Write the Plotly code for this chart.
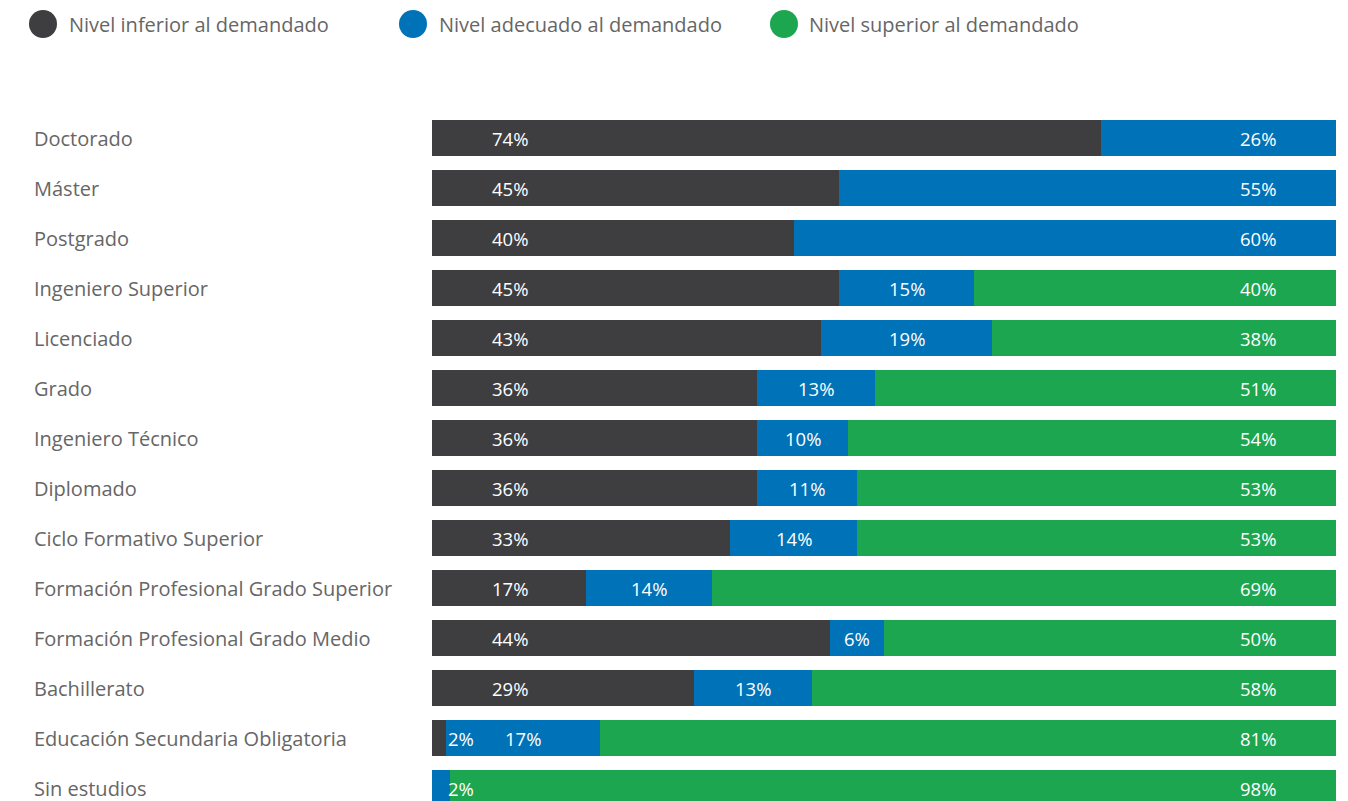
import plotly.graph_objects as go

# ---------------- data ----------------
categories = [
    "Doctorado", "Máster", "Postgrado", "Ingeniero Superior", "Licenciado",
    "Grado", "Ingeniero Técnico", "Diplomado", "Ciclo Formativo Superior",
    "Formación Profesional Grado Superior", "Formación Profesional Grado Medio",
    "Bachillerato", "Educación Secundaria Obligatoria", "Sin estudios",
]
inferior = [74, 45, 40, 45, 43, 36, 36, 36, 33, 17, 44, 29, 1.6, 0]
adecuado = [26, 55, 60, 15, 19, 13, 10, 11, 14, 14, 6, 13, 17, 2]
superior = [0, 0, 0, 40, 38, 51, 54, 53, 53, 69, 50, 58, 81.4, 98]

series_names = [
    "Nivel inferior al demandado",
    "Nivel adecuado al demandado",
    "Nivel superior al demandado",
]
series_values = [inferior, adecuado, superior]
colors = ["#3e3e41", "#0073b8", "#1da650"]

# ---------------- layout constants ----------------
W, H = 1348, 801
ML, MR, MT, MB = 432, 12, 80, 0
FONT = "'Open Sans', 'Noto Sans', sans-serif"
TEXT_GRAY = "#666666"
ROW_PX = 50          # pixel pitch between rows
FIRST_ROW_Y = 138    # pixel centre of the first row

plot_w = W - ML - MR
plot_h = H - MT - MB


def px_to_paper_x(px):
    return (px - ML) / plot_w


def px_to_paper_y(py):
    return (H - MB - py) / plot_h


n = len(categories)
idx = list(range(n))
y_top = (MT - FIRST_ROW_Y) / ROW_PX
y_bot = (H - MB - FIRST_ROW_Y) / ROW_PX

fig = go.Figure()
for name, vals, col in zip(series_names, series_values, colors):
    fig.add_trace(go.Bar(
        y=idx, x=vals, orientation="h", name=name,
        marker=dict(color=col, line=dict(width=0)),
        width=0.72, showlegend=False, hoverinfo="skip",
    ))

annotations = []
# data labels
px_per_unit = plot_w / 100.0
edge_off = 78 / px_per_unit
tiny_off = 14 / px_per_unit
for i in idx:
    vals = [s[i] for s in series_values]
    nz = [k for k, v in enumerate(vals) if v > 0]
    start = 0.0
    for k, v in enumerate(vals):
        if v <= 0:
            continue
        if v < 3:
            x, anchor = start + tiny_off, "left"
        elif k == nz[0]:
            x, anchor = start + edge_off, "center"
        elif k == nz[-1]:
            x, anchor = start + v - edge_off, "center"
        else:
            x, anchor = start + v / 2, "center"
        annotations.append(dict(
            x=x, y=i, xref="x", yref="y", text=f"{round(v)}%",
            showarrow=False, xanchor=anchor, yanchor="middle",
            font=dict(family=FONT, size=18.5, color="white"),
        ))
        start += v

# category labels (left aligned)
for i, c in enumerate(categories):
    annotations.append(dict(
        x=px_to_paper_x(32), y=i, xref="paper", yref="y", text=c,
        showarrow=False, xanchor="left", yanchor="middle",
        font=dict(family=FONT, size=20, color=TEXT_GRAY),
    ))

# custom legend
shapes = []
legend_circle_x = [43, 413, 784]
legend_text_x = [67, 437, 807]
legend_y = 24
for name, col, cx, tx in zip(series_names, colors, legend_circle_x, legend_text_x):
    shapes.append(dict(
        type="circle", xref="paper", yref="paper",
        x0=px_to_paper_x(cx - 14), x1=px_to_paper_x(cx + 14),
        y0=px_to_paper_y(legend_y + 14), y1=px_to_paper_y(legend_y - 14),
        fillcolor=col, line=dict(width=0),
    ))
    annotations.append(dict(
        x=px_to_paper_x(tx), y=px_to_paper_y(legend_y), xref="paper", yref="paper",
        text=name, showarrow=False, xanchor="left", yanchor="middle",
        font=dict(family=FONT, size=20, color=TEXT_GRAY),
    ))

fig.update_layout(
    width=W, height=H,
    margin=dict(l=ML, r=MR, t=MT, b=MB, pad=0),
    barmode="stack",
    plot_bgcolor="white", paper_bgcolor="white",
    xaxis=dict(range=[0, 100], visible=False, fixedrange=True),
    yaxis=dict(range=[y_bot, y_top], visible=False, fixedrange=True),
    annotations=annotations, shapes=shapes,
    showlegend=False,
)

fig.write_html(
    "out.html",
    config={"displayModeBar": False},
    post_script="document.body.style.margin='0';document.body.style.overflow='hidden';",
)
